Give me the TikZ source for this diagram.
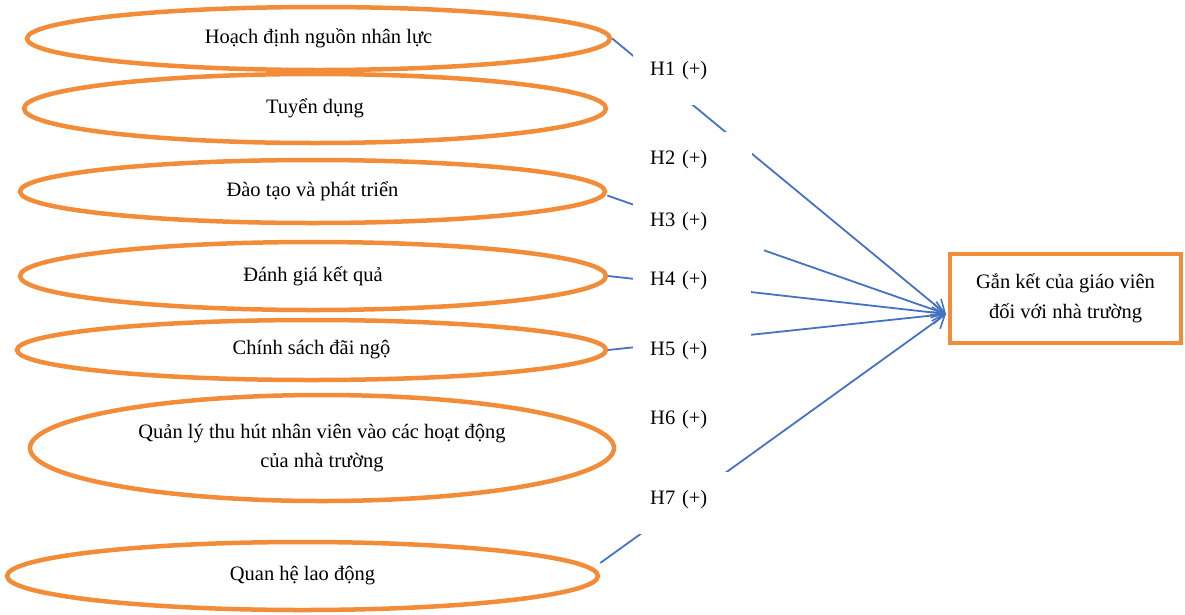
\documentclass[tikz,border=0pt]{standalone}
\usepackage{fontspec}
\setmainfont{Liberation Serif}
\usetikzlibrary{arrows.meta,shapes.geometric}
\definecolor{factorOrange}{RGB}{242,140,56}
\definecolor{linkBlue}{RGB}{70,114,196}
\begin{document}
\begin{tikzpicture}[x=1pt,y=-1pt,
  factor/.style={ellipse, draw=factorOrange, line width=4.5pt, inner sep=0pt,
    align=center, font=\fontsize{20.5}{29}\selectfont},
  outcome/.style={rectangle, draw=factorOrange, line width=4.5pt, inner sep=0pt,
    align=center, font=\fontsize{20.5}{30}\selectfont},
  hyp/.style={fill=white, anchor=north west, inner xsep=17pt, inner ysep=0pt,
    align=left, text height=32pt, text depth=30pt, text width=#1,
    font=\fontsize{20.5}{25}\selectfont},
  hyp/.default=84pt,
  link/.style={draw=linkBlue, line width=1.8pt,
    -{Straight Barb[length=12pt,width=17pt,line width=1.6pt]}}
]
\useasboundingbox (0,0) rectangle (1185,614);

% HR practice factors
\node[factor, minimum width=583pt, minimum height=63pt] (e1) at (318.5,38.5) {Hoạch định nguồn nhân lực};
\node[factor, minimum width=582pt, minimum height=69pt] (e2) at (315,108.5) {Tuyển dụng};
\node[factor, minimum width=585pt, minimum height=63pt] (e3) at (312.5,191.5) {Đào tạo và phát triển};
\node[factor, minimum width=586pt, minimum height=68pt] (e4) at (313,276) {Đánh giá kết quả};
\node[factor, minimum width=589pt, minimum height=60pt] (e5) at (311.5,350) {Chính sách đãi ngộ};
\node[factor, minimum width=584pt, minimum height=106pt] (e6) at (322,448) {Quản lý thu hút nhân viên vào các hoạt động\\của nhà trường};
\node[factor, minimum width=591pt, minimum height=68pt] (e7) at (302.5,576) {Quan hệ lao động};

% outcome variable
\node[outcome, minimum width=231pt, minimum height=89pt] (out) at (1065.5,298.5) {Gắn kết của giáo viên\\đối với nhà trường};
\coordinate (tip) at (946,314);

% hypothesised paths
\draw[link] (e1.east) -- (tip);
\draw[link] ([yshift=-4pt]e3.east) -- (tip);
\draw[link] (e4.east) -- (tip);
\draw[link] (e5.east) -- (tip);
\draw[link] ([yshift=13pt]e7.east) -- (tip);

% hypothesis labels
\node[hyp] (h1) at (633,43) {H1 (+)};
\node[hyp=85pt] (h2) at (633,132) {H2 (+)};
\node[hyp=97pt] (h3) at (633,194) {H3 (+)};
\node[hyp] (h4) at (633,253) {H4 (+)};
\node[hyp] (h5) at (633,323) {H5 (+)};
\node[hyp] (h6) at (633,392) {H6 (+)};
\node[hyp] (h7) at (633,472) {H7 (+)};
\end{tikzpicture}
\end{document}
